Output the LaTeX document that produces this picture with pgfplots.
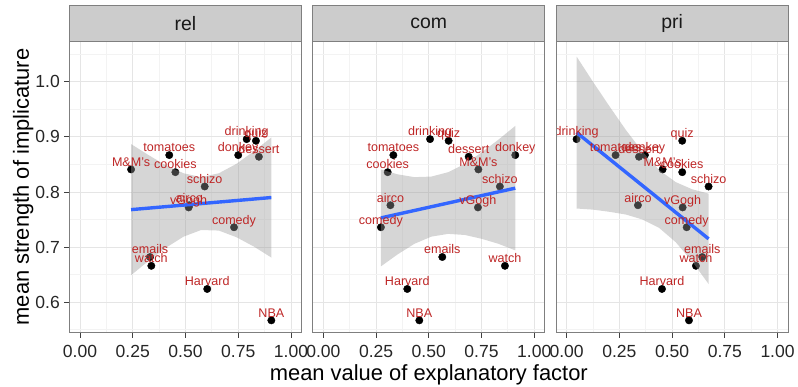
\documentclass[border=0pt]{standalone}
\usepackage{pgfplots}
\pgfplotsset{compat=1.18}
\usepackage{pgfplotstable}
\usepackage{fontspec}
\setmainfont{Liberation Sans}
\definecolor{labred}{RGB}{190,38,38}
\definecolor{smoothblue}{HTML}{3366FF}
\definecolor{gridmaj}{HTML}{E5E5E5}
\definecolor{gridmin}{HTML}{F3F3F3}
\definecolor{stripfill}{HTML}{CCCCCC}
\definecolor{bordercol}{HTML}{7F7F7F}
\definecolor{ribboncol}{HTML}{999999}

\pgfplotstableread{
x y label
0.242 0.841 M\&M's
0.423 0.867 tomatoes
0.452 0.836 cookies
0.591 0.810 schizo
0.518 0.776 airco
0.515 0.772 vGogh
0.730 0.736 comedy
0.332 0.682 emails
0.338 0.666 watch
0.603 0.624 Harvard
0.907 0.567 NBA
0.790 0.896 drinking
0.834 0.893 quiz
0.750 0.867 donkey
0.848 0.864 dessert
}\relpts

\pgfplotstableread{
x y label
0.506 0.896 drinking
0.594 0.893 quiz
0.332 0.867 tomatoes
0.305 0.836 cookies
0.689 0.864 dessert
0.910 0.867 donkey
0.735 0.841 M\&M's
0.837 0.810 schizo
0.318 0.776 airco
0.733 0.772 vGogh
0.273 0.736 comedy
0.564 0.682 emails
0.861 0.666 watch
0.398 0.624 Harvard
0.455 0.567 NBA
}\compts

\pgfplotstableread{
x y label
0.047 0.896 drinking
0.548 0.893 quiz
0.232 0.867 tomatoes
0.343 0.864 dessert
0.371 0.867 donkey
0.455 0.841 M\&M's
0.548 0.836 cookies
0.673 0.810 schizo
0.338 0.776 airco
0.550 0.772 vGogh
0.569 0.736 comedy
0.643 0.682 emails
0.613 0.666 watch
0.452 0.624 Harvard
0.580 0.567 NBA
}\pripts

\pgfplotsset{
  panel/.style={
    scale only axis, width=232bp, height=290.4bp,
    anchor=south west,
    xmin=-0.05, xmax=1.05, ymin=0.5455, ymax=1.0727,
    xtick={0,0.25,0.5,0.75,1},
    minor xtick={0.125,0.375,0.625,0.875},
    ytick={0.6,0.7,0.8,0.9,1.0},
    minor ytick={0.55,0.65,0.75,0.85,0.95,1.05},
    grid=both,
    major grid style={gridmaj, line width=0.9bp},
    minor grid style={gridmin, line width=0.9bp},
    axis line style={bordercol, line width=0.9bp},
    tick align=outside, tick pos=left,
    major tick length=5.5bp, minor tick length=0pt,
    tick style={black!75, line width=0.9bp},
    /pgf/number format/assume math mode=true,
    xticklabel={\pgfmathprintnumber[fixed,fixed zerofill,precision=2]{\tick}},
    yticklabel={\pgfmathprintnumber[fixed,fixed zerofill,precision=1]{\tick}},
    xticklabel style={font=\fontsize{17.6}{20}\selectfont, text=black!85, inner sep=0pt, anchor=north, yshift=-7bp},
    yticklabel style={font=\fontsize{17.6}{20}\selectfont, text=black!85, inner sep=0pt, anchor=east, xshift=-4bp},
    clip marker paths=true,
    pts/.style={only marks, mark=*, mark size=3.7bp, black},
    rib/.style={fill=ribboncol, fill opacity=0.4, draw=none},
    fit/.style={smoothblue, line width=3.4bp, mark=none},
    labs/.style={draw=none, mark=none, nodes near coords, point meta=explicit symbolic,
      nodes near coords style={anchor=base, inner sep=0pt, yshift=3.2bp,
        font=\fontsize{12.6}{14}\selectfont, text=labred}},
  }
}

\begin{document}
\begin{tikzpicture}
\useasboundingbox (0,0) rectangle (798bp,387bp);

% ---- panel rel
\begin{axis}[panel, at={(69.5bp,54.8bp)}]
\addplot[pts] table[x=x,y=y]{\relpts};
\addplot[rib] coordinates {(0.242,0.887) (0.325,0.867) (0.408,0.848) (0.491,0.834) (0.574,0.827) (0.658,0.834) (0.741,0.851) (0.824,0.874) (0.907,0.899)
 (0.907,0.681) (0.824,0.701) (0.741,0.718) (0.658,0.730) (0.574,0.731) (0.491,0.719) (0.408,0.699) (0.325,0.675) (0.242,0.649)};
\addplot[fit] coordinates {(0.242,0.768) (0.907,0.790)};
\addplot[labs] table[x=x,y=y,meta=label]{\relpts};
\end{axis}

% ---- panel com
\begin{axis}[panel, at={(312.8bp,54.8bp)}, yticklabels={}, ytick style={draw=none}]
\addplot[pts] table[x=x,y=y]{\compts};
\addplot[rib] coordinates {(0.273,0.841) (0.353,0.832) (0.432,0.827) (0.512,0.828) (0.592,0.836) (0.671,0.851) (0.751,0.872) (0.830,0.895) (0.910,0.920)
 (0.910,0.694) (0.830,0.706) (0.751,0.715) (0.671,0.722) (0.592,0.724) (0.512,0.719) (0.432,0.706) (0.353,0.687) (0.273,0.665)};
\addplot[fit] coordinates {(0.273,0.753) (0.910,0.807)};
\addplot[labs] table[x=x,y=y,meta=label]{\compts};
\end{axis}

% ---- panel pri
\begin{axis}[panel, at={(556.1bp,54.8bp)}, yticklabels={}, ytick style={draw=none}]
\addplot[pts] table[x=x,y=y]{\pripts};
\addplot[rib] coordinates {(0.047,1.046) (0.125,1.000) (0.204,0.955) (0.282,0.912) (0.360,0.873) (0.438,0.840) (0.517,0.818) (0.595,0.805) (0.673,0.797)
 (0.673,0.633) (0.595,0.674) (0.517,0.709) (0.438,0.735) (0.360,0.750) (0.282,0.759) (0.204,0.764) (0.125,0.768) (0.047,0.770)};
\addplot[fit] coordinates {(0.047,0.908) (0.673,0.715)};
\addplot[labs] table[x=x,y=y,meta=label]{\pripts};
\end{axis}

% ---- labels are clipped by the panel in the reference: mask the overflow in the gap
\fill[white] (545.4bp,200bp) rectangle (555.6bp,300bp);
\draw[bordercol, line width=0.9bp] (556.1bp,200bp) -- (556.1bp,300bp);

% ---- strips
\begin{scope}[line width=0.9bp]
\draw[fill=stripfill, draw=bordercol] (69.5bp,345.2bp) rectangle (301.5bp,382bp);
\draw[fill=stripfill, draw=bordercol] (312.8bp,345.2bp) rectangle (544.8bp,382bp);
\draw[fill=stripfill, draw=bordercol] (556.1bp,345.2bp) rectangle (788.1bp,382bp);
\end{scope}
\node[font=\fontsize{19.5}{22}\selectfont, text=black!90] at (185.5bp,363.6bp) {rel};
\node[font=\fontsize{19.5}{22}\selectfont, text=black!90] at (428.8bp,363.6bp) {com};
\node[font=\fontsize{19.5}{22}\selectfont, text=black!90] at (672.1bp,363.6bp) {pri};

% ---- axis titles
\node[font=\fontsize{22}{26}\selectfont, inner sep=0pt, anchor=base] at (428.8bp,6.5bp) {mean value of explanatory factor};
\node[font=\fontsize{22}{26}\selectfont, inner sep=0pt, rotate=90] at (23.3bp,200bp) {mean strength of implicature};
\end{tikzpicture}
\end{document}
